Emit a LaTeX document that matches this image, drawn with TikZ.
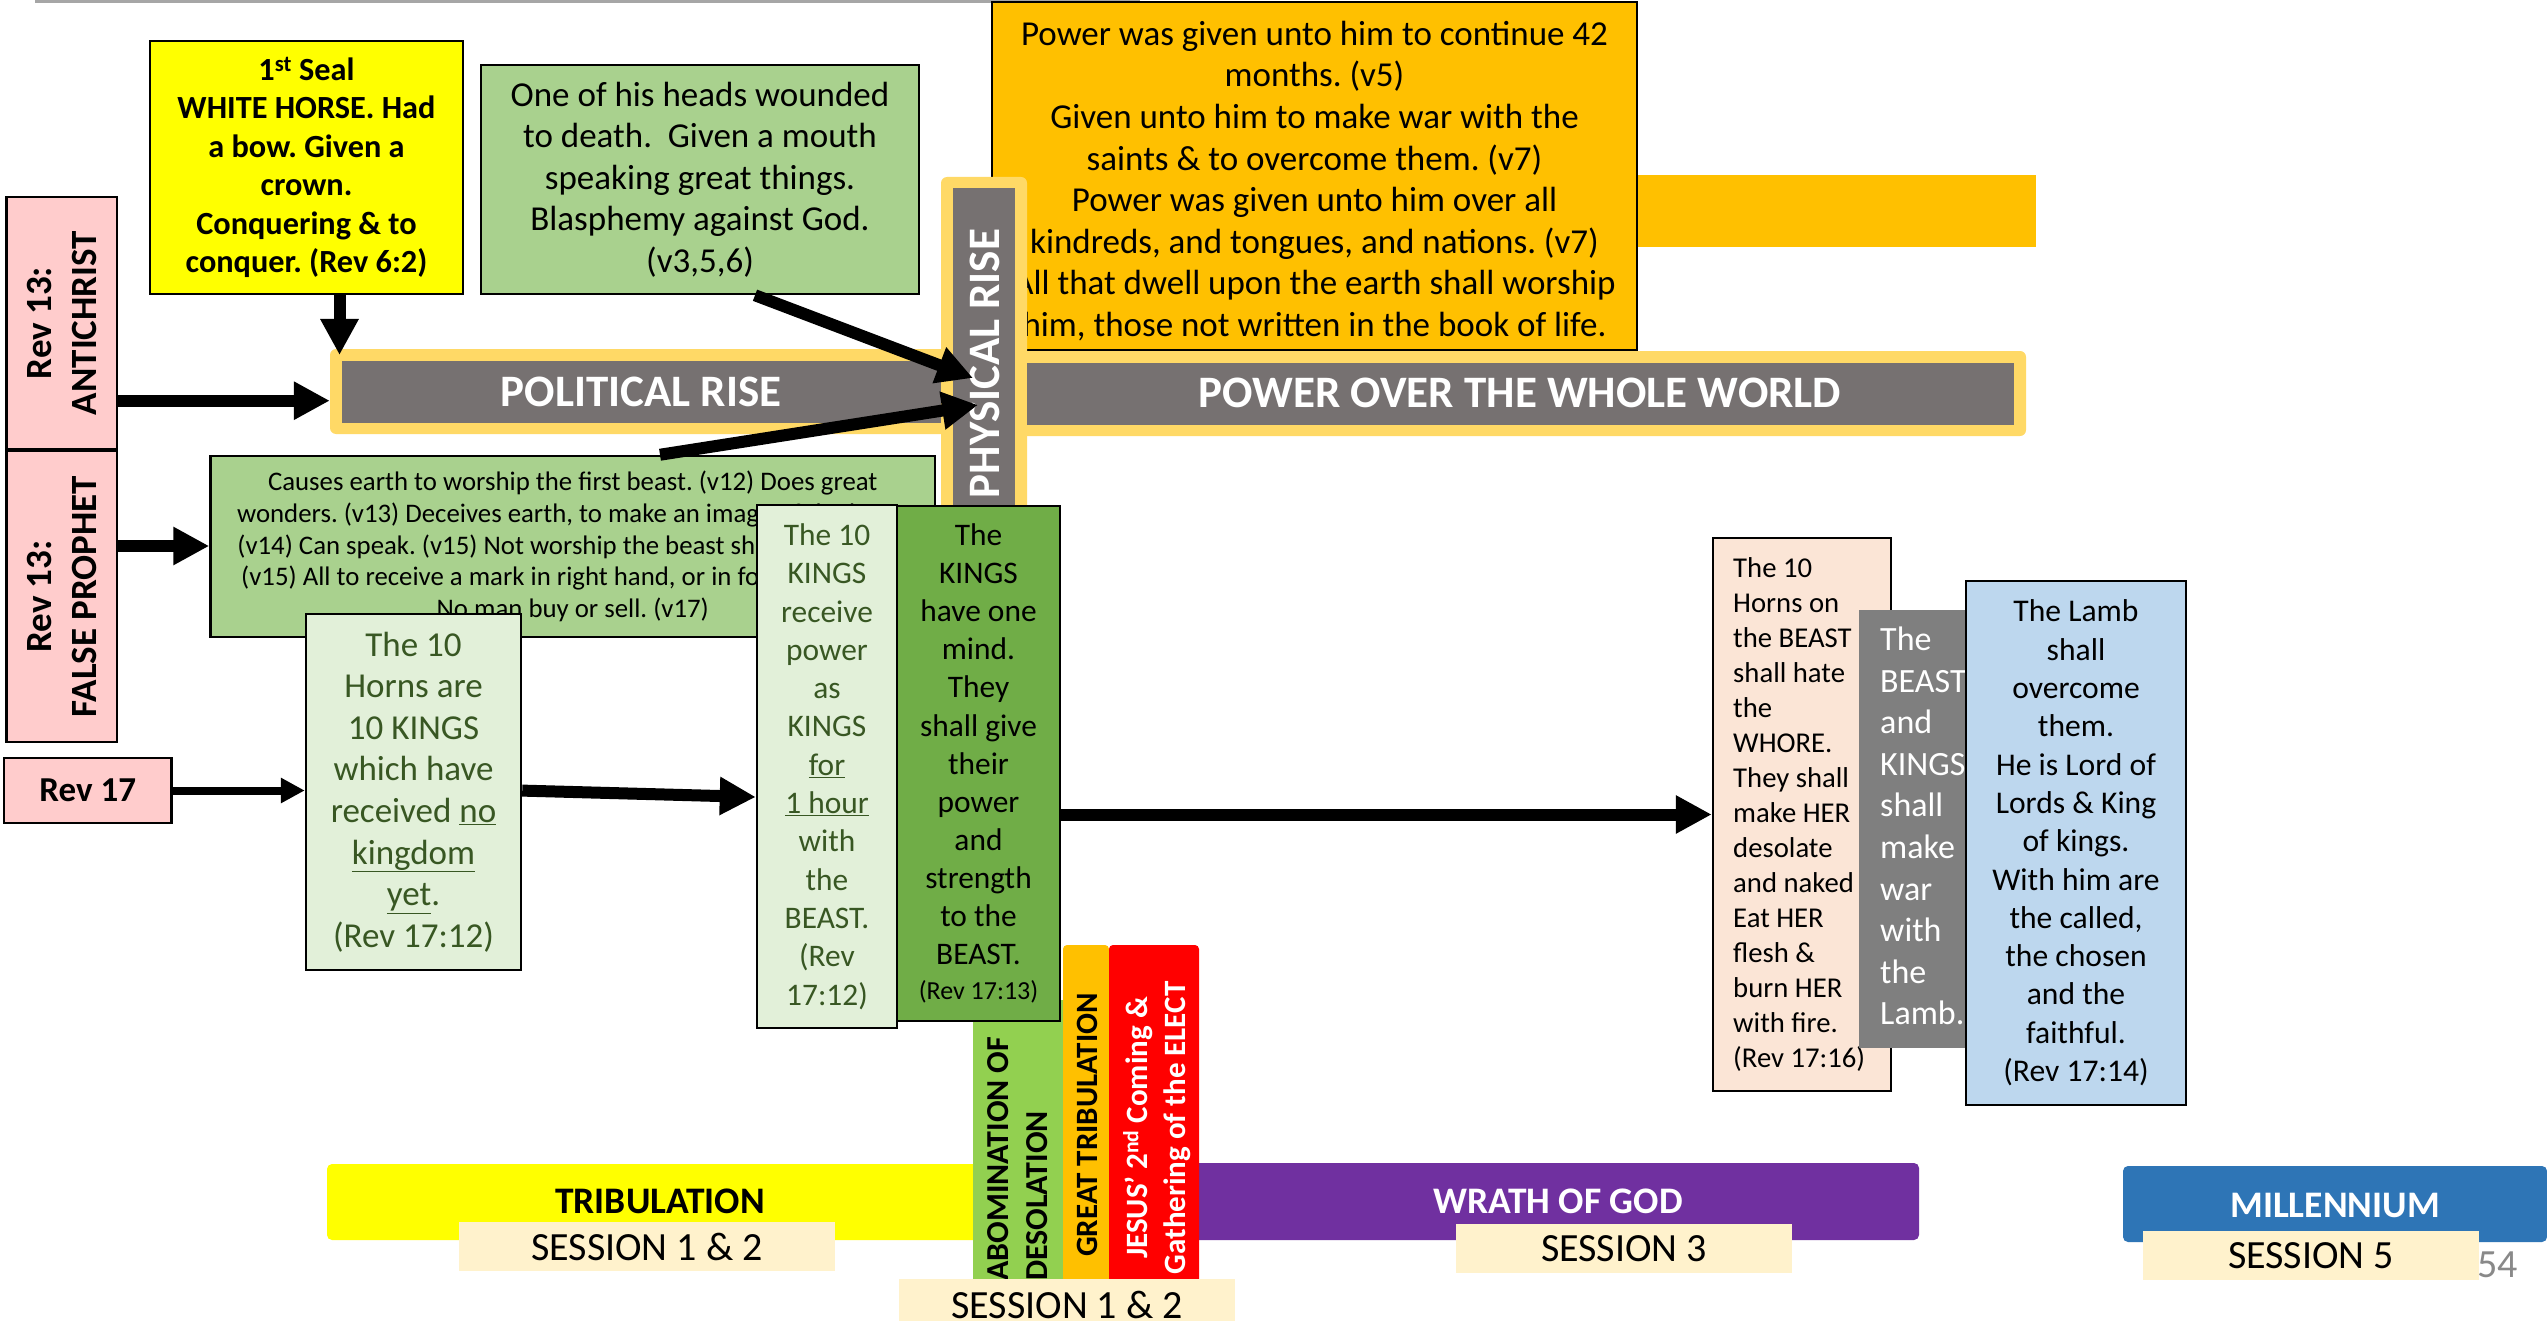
\documentclass[tikz,border=0pt]{standalone}
\usepackage{fontspec}
\setmainfont{Carlito}
\usetikzlibrary{arrows.meta}
\definecolor{pinkA}{HTML}{FFCCCC}
\definecolor{yellowA}{HTML}{FFFF00}
\definecolor{greenA}{HTML}{A9D18E}
\definecolor{lgreen}{HTML}{E2F0D9}
\definecolor{dgtext}{HTML}{385723}
\definecolor{greenB}{HTML}{70AD47}
\definecolor{greenC}{HTML}{92D050}
\definecolor{orangeA}{HTML}{FFC000}
\definecolor{lorange}{HTML}{FFD966}
\definecolor{grayA}{HTML}{767171}
\definecolor{grayB}{HTML}{7F7F7F}
\definecolor{purpleA}{HTML}{7030A0}
\definecolor{blueA}{HTML}{2E75B6}
\definecolor{blueB}{HTML}{BDD7EE}
\definecolor{cream}{HTML}{FFF2CC}
\definecolor{peachA}{HTML}{FBE5D6}
\definecolor{redA}{HTML}{FF0000}
\definecolor{linegray}{HTML}{A6A6A6}
\definecolor{pagegray}{HTML}{898989}
\newcommand\fs[2]{\fontsize{#1}{#2}\selectfont}
\newcommand{\boxnode}[7][]{\node[#1, minimum width={(#5)-(#3)}, minimum height={(#6)-(#4)}] (#2) at ({((#3)+(#5))/2},{((#4)+(#6))/2}) {#7};}
\tikzset{
  bx/.style={draw=black, line width=2.5pt, inner sep=0pt},
  fl/.style={draw=none, inner sep=0pt},
  arr/.style={line width=12pt, -{Triangle[length=36pt,width=36pt]}},
  arrs/.style={line width=8pt, -{Triangle[length=24pt,width=24pt]}},
  vtxt/.style={rotate=90, inner sep=0pt},
}
\begin{document}
\frenchspacing
\begin{tikzpicture}[x=1pt,y=-1pt]
\useasboundingbox (0,0) rectangle (2547,1321);
\fill[white] (0,0) rectangle (2547,1321);

% top line
\coordinate (tl1) at (35,1.5);
\coordinate (tl2) at (1140,1.5);
\draw[line width=3pt, linegray] (tl1) -- (tl2);

% orange box and bar
\boxnode[fl, fill=orangeA]{obar}{1630}{175}{2036}{247}{}
\boxnode[bx, line width=2pt, fill=orangeA]{obox}{992}{2}{1637}{350}{}
\node[align=center, inner sep=0pt, font=\fs{35}{41.6}] (oboxtxt) at (1314.5,181) {Power was given unto him to continue 42\\months. (v5)\\Given unto him to make war with the\\saints \& to overcome them. (v7)\\Power was given unto him over all\\kindreds, and tongues, and nations. (v7)\\All that dwell upon the earth shall worship\\him, those not written in the book of life.};

% rise bars
\boxnode[fl, fill=lorange, rounded corners=6pt]{polout}{330}{349}{960}{434}{}
\boxnode[fl, fill=lorange, rounded corners=6pt]{powout}{1010}{351}{2026}{436}{}
\boxnode[fl, fill=lorange, rounded corners=6pt]{phyout}{941}{177}{1027}{530}{}
\boxnode[fl, fill=grayA]{polin}{342}{361}{941}{423}{}
\boxnode[fl, fill=grayA]{powin}{1027}{363}{2014}{425}{}
\boxnode[fl, fill=grayA]{phyin}{953}{188}{1015}{530}{}
\node[anchor=base, text=white, font=\fs{45}{54}\bfseries] (poltxt) at (641,406) {POLITICAL RISE};
\node[anchor=base, text=white, font=\fs{45}{54}\bfseries] (powtxt) at (1520,407) {POWER OVER THE WHOLE WORLD};
\node[vtxt, text=white, font=\fs{45}{54}\bfseries] (phytxt) at (985,363.5) {PHYSICAL RISE};

% upper boxes
\boxnode[bx, fill=yellowA, align=center, font=\fs{32.3}{38.5}\bfseries]{seal}{150}{41}{463}{294}{1\textsuperscript{st} Seal\\WHITE HORSE. Had\\a bow. Given a\\crown.\\Conquering \& to\\conquer. (Rev 6:2)}
\boxnode[bx, fill=greenA, align=center, font=\fs{35}{41.5}]{heads}{481}{65}{919}{294}{One of his heads wounded\\to death.\ \ Given a mouth\\speaking great things.\\Blasphemy against God.\\(v3,5,6)}

% left labels
\boxnode[bx, fill=pinkA]{anti}{6.5}{197}{117}{449}{}
\node[vtxt, align=center, font=\fs{37}{45}\bfseries] (antitxt) at (anti.center) {Rev 13:\\ANTICHRIST};
\boxnode[bx, fill=pinkA]{fp}{6.5}{451}{117}{742}{}
\node[vtxt, align=center, font=\fs{37}{45}\bfseries] (fptxt) at (fp.center) {Rev 13:\\FALSE PROPHET};
\boxnode[bx, fill=pinkA, font=\fs{35}{42}\bfseries]{rev17}{4}{758}{171.5}{823}{Rev 17}

% false prophet box
\boxnode[bx, fill=greenA, align=center, font=\fs{26.8}{31.8}]{causes}{210.5}{456}{935}{637}{Causes earth to worship the first beast. (v12) Does great\\wonders. (v13) Deceives earth, to make an image of the beast\\(v14) Can speak. (v15) Not worship the beast should be killed.\\(v15) All to receive a mark in right hand, or in forehead. (v16)\\No man buy or sell. (v17)}

% kings boxes
\boxnode[bx, fill=lgreen, text=dgtext, align=center, font=\fs{35}{41.6}]{horns}{306}{614}{521}{970}{The 10\\Horns are\\10 KINGS\\which have\\received \underline{no}\\\underline{kingdom}\\\underline{yet}.\\(Rev 17:12)}
\boxnode[bx, fill=lgreen, text=dgtext, align=center, font=\fs{31.4}{38.3}]{recv}{757}{505}{897}{1028}{The 10\\KINGS\\receive\\power\\as\\KINGS\\\underline{for}\\\underline{1 hour}\\with\\the\\BEAST.\\(Rev\\17:12)}

% bottom timeline bars
\boxnode[fl, fill=yellowA, rounded corners=5pt]{trib}{327}{1164}{985}{1240}{}
\node[anchor=base, font=\fs{37.5}{45}\bfseries] (tribtxt) at (660,1213) {TRIBULATION};
\boxnode[fl, fill=purpleA, rounded corners=5pt]{wrath}{1190}{1163}{1919}{1240}{}
\node[anchor=base, text=white, font=\fs{37.5}{45}\bfseries] (wrathtxt) at (1558,1213) {WRATH OF GOD};
\boxnode[fl, fill=blueA, rounded corners=5pt]{mill}{2123}{1166}{2547}{1242}{}
\node[anchor=base, text=white, font=\fs{37.5}{45}\bfseries] (milltxt) at (2335,1217) {MILLENNIUM};

% vertical event bars
\boxnode[fl, fill=greenC]{abom}{973}{1000}{1063}{1279}{}
\boxnode[fl, fill=orangeA, rounded corners=4pt]{gtrib}{1063}{945}{1109}{1290}{}
\boxnode[fl, fill=redA, rounded corners=4pt]{jesus}{1109}{945}{1199}{1290}{}
\node[vtxt, anchor=west, align=left, font=\fs{32}{39}\bfseries] (abomtxt) at (1017.5,1281) {ABOMINATION OF\\DESOLATION};
\node[vtxt, font=\fs{31}{38}\bfseries] (gtribtxt) at (1087,1125) {GREAT TRIBULATION};
\node[vtxt, align=center, text=white, font=\fs{31}{38}\bfseries] (jesustxt) at (1157,1128) {JESUS’ 2\textsuperscript{nd} Coming \&\\Gathering of the ELECT};

% dark green box
\boxnode[bx, fill=greenB, align=center, font=\fs{31.4}{38.1}]{mind}{897}{506}{1060}{1021}{The\\KINGS\\have one\\mind.\\They\\shall give\\their\\power\\and\\strength\\to the\\BEAST.\\[-3pt]{\fs{26}{35}(Rev 17:13)}}

% sessions
\node[text=pagegray, anchor=base, font=\fs{40}{48}] (pnum) at (2497.5,1277) {54};
\boxnode[fl, fill=cream, font=\fs{40}{48}]{sesa}{459}{1222}{835}{1271}{SESSION 1 \& 2}
\boxnode[fl, fill=cream, font=\fs{40}{48}]{sesb}{899}{1279}{1235}{1330}{SESSION 1 \& 2}
\boxnode[fl, fill=cream, font=\fs{40}{48}]{sesc}{1456}{1224}{1792}{1273}{SESSION 3}
\boxnode[fl, fill=cream, font=\fs{40}{48}]{sesd}{2143}{1231}{2479}{1280}{SESSION 5}

% right boxes
\boxnode[bx, fill=peachA]{whore}{1713}{538}{1891}{1091}{}
\node[anchor=west, align=left, inner sep=0pt, font=\fs{28.7}{35}] (whoretxt) at (1733,815) {The 10\\Horns on\\the BEAST\\shall hate\\the\\WHORE.\\They shall\\make HER\\desolate\\and naked\\Eat HER\\flesh \&\\burn HER\\with fire.\\(Rev 17:16)};
\boxnode[fl, fill=grayB]{war}{1859}{610}{1966}{1048}{}
\node[anchor=west, align=left, inner sep=0pt, text=white, font=\fs{34}{41.6}] (wartxt) at (1880,826) {The\\BEAST\\and\\KINGS\\shall\\make\\war\\with\\the\\Lamb.};
\boxnode[bx, fill=blueB, align=center, font=\fs{31.6}{38.3}]{lamb}{1966}{581}{2186}{1105}{The Lamb\\shall\\overcome\\them.\\He is Lord of\\Lords \& King\\of kings.\\With him are\\the called,\\the chosen\\and the\\faithful.\\(Rev 17:14)}

% arrows
\coordinate (sealtip) at (339.5,355);
\draw[arr] (seal.south -| sealtip) -- (sealtip);
\draw[arr] (anti.east |- 0,400.7) -- (polout.west |- 0,400.7);
\coordinate (headstip) at (973,378);
\draw[arr] (heads.south -| 755,0) -- (headstip);
\coordinate (causestip) at (978,405);
\draw[arr] (causes.north -| 660,0) -- (causestip);
\draw[arr] (fp.east |- 0,546) -- (causes.west |- 0,546);
\draw[arrs] (rev17.east) -- (horns.west |- rev17.east);
\draw[arr] (horns.east |- 0,790.6) -- (recv.west |- 0,797);
\draw[arr] (mind.east |- whore.west) -- (whore.west);
\end{tikzpicture}
\end{document}
